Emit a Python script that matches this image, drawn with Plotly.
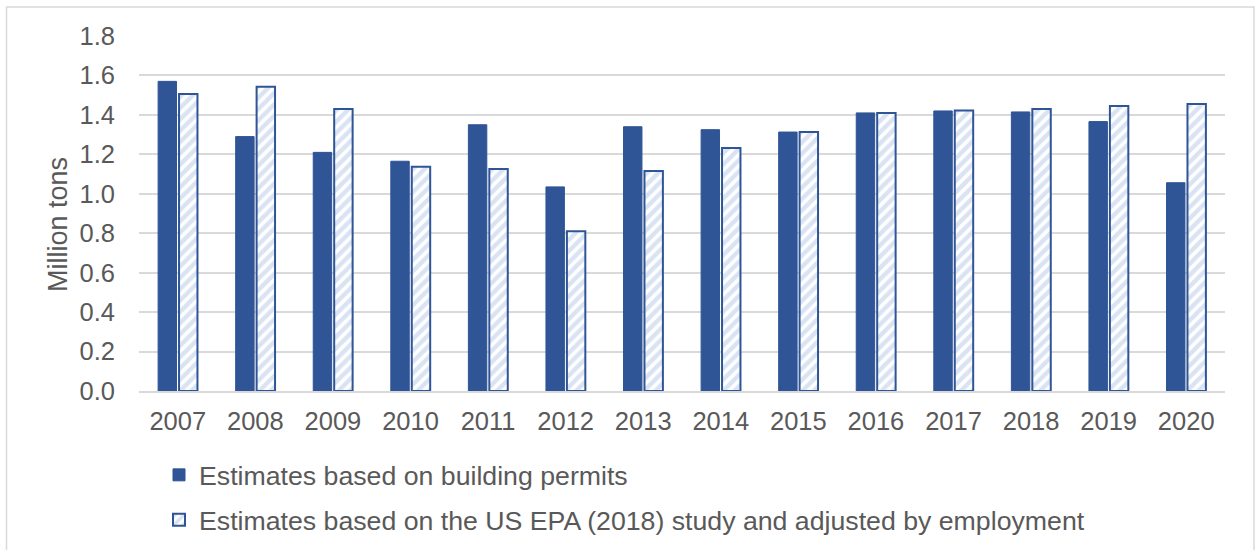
import plotly.graph_objects as go

# Annual estimates, million tons
years = ["2007", "2008", "2009", "2010", "2011", "2012", "2013",
         "2014", "2015", "2016", "2017", "2018", "2019", "2020"]
permits = [1.57, 1.29, 1.21, 1.165, 1.35, 1.035, 1.34,
           1.325, 1.313, 1.41, 1.42, 1.415, 1.366, 1.056]
epa_employment = [1.506, 1.543, 1.43, 1.137, 1.126, 0.81, 1.116,
                  1.232, 1.313, 1.41, 1.422, 1.43, 1.445, 1.455]
y_ticks = [0.0, 0.2, 0.4, 0.6, 0.8, 1.0, 1.2, 1.4, 1.6, 1.8]

DARK = "#2F5597"
LIGHT = "#B4C7E7"
GRID = "#D9D9D9"
TEXT = "#595959"
FONT = "Liberation Sans, Arial, sans-serif"

# plot-area geometry in pixels
W, H = 1258, 550
L, R, T, B = 139, 1225, 36, 391


def px_x(p):
    return (p - L) / (R - L)


def px_y(p):
    return (B - p) / (B - T)


fig = go.Figure()
fig.add_trace(go.Bar(
    x=years, y=permits,
    name="Estimates based on building permits",
    marker=dict(color=DARK, line=dict(color=DARK, width=1)),
    legend="legend", showlegend=True,
))
fig.add_trace(go.Bar(
    x=years, y=epa_employment,
    name="Estimates based on the US EPA (2018) study and adjusted by employment",
    marker=dict(
        color="white",
        line=dict(color=DARK, width=2),
        pattern=dict(shape="/", fgcolor=LIGHT, bgcolor="white",
                     size=8, solidity=0.55),
    ),
    legend="legend2", showlegend=True,
))

legend_common = dict(
    font=dict(family=FONT, size=26.7, color=TEXT),
    bgcolor="rgba(0,0,0,0)",
    xanchor="left", yanchor="middle",
    itemclick=False, itemdoubleclick=False,
    visible=True,
)

fig.update_layout(
    width=W, height=H,
    margin=dict(l=L, r=W - R, t=T, b=H - B, pad=0, autoexpand=False),
    paper_bgcolor="white", plot_bgcolor="white",
    showlegend=True,
    barmode="group", bargap=0.46, bargroupgap=0.12,
    font=dict(family=FONT, color=TEXT),
    legend=dict(x=px_x(159), y=px_y(475), **legend_common),
    legend2=dict(x=px_x(159), y=px_y(520), **legend_common),
    xaxis=dict(
        type="category",
        showgrid=False, showline=True, linecolor=GRID, linewidth=2,
        ticks="", tickfont=dict(family=FONT, size=25.5, color=TEXT),
        ticklabelstandoff=6,
    ),
    yaxis=dict(
        range=[0, 1.8], tickvals=y_ticks,
        tickformat=".1f",
        showgrid=True, gridcolor=GRID, gridwidth=2,
        zeroline=False, showline=False,
        tickfont=dict(family=FONT, size=25.5, color=TEXT),
        ticklabelstandoff=23,
    ),
    annotations=[dict(
        text="Million tons", textangle=-90, showarrow=False,
        xref="paper", yref="paper", x=px_x(58), y=px_y(225),
        xanchor="center", yanchor="middle",
        font=dict(family=FONT, size=27, color=TEXT),
    )],
    shapes=[dict(
        type="rect", xref="paper", yref="paper",
        x0=px_x(6.5), x1=px_x(1254), y0=px_y(7), y1=px_y(600),
        line=dict(color=GRID, width=1.5), fillcolor="rgba(0,0,0,0)",
        layer="below",
    )],
)

fig.write_html("out.html")
